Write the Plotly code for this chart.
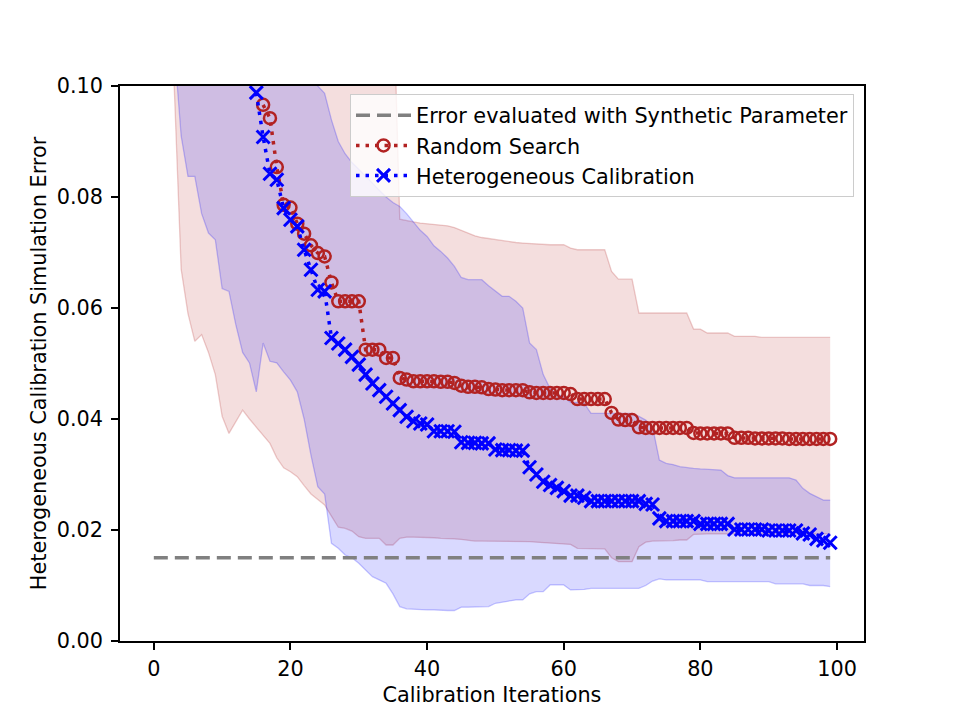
import plotly.graph_objects as go

# ---------------- data ----------------
ABOVE = 0.12  # value lying above the visible y-range (clipped at 0.10 in the reference)

iterations = list(range(100))

# mean curves (visible part)
random_x = list(range(16, 100))
random_mean = [0.0966, 0.0942, 0.0854, 0.0786, 0.0781, 0.0752, 0.0734, 0.0713, 0.0699, 0.0693,
               0.0646, 0.0612, 0.0612, 0.0612, 0.0612, 0.0525, 0.0525, 0.0525, 0.0510, 0.0510,
               0.0474, 0.0471, 0.0468, 0.0468, 0.0468, 0.0468, 0.0467, 0.0467, 0.0465, 0.0460,
               0.0458, 0.0458, 0.0457, 0.0454, 0.0453, 0.0452, 0.0452, 0.0452, 0.0452, 0.0448,
               0.0447, 0.0447, 0.0447, 0.0447, 0.0447, 0.0445, 0.0436, 0.0436, 0.0436, 0.0436,
               0.0436, 0.0411, 0.0399, 0.0398, 0.0398, 0.0385, 0.0384, 0.0384, 0.0384, 0.0384,
               0.0384, 0.0384, 0.0384, 0.0375, 0.0374, 0.0374, 0.0374, 0.0374, 0.0374, 0.0366,
               0.0366, 0.0366, 0.0365, 0.0365, 0.0365, 0.0365, 0.0365, 0.0364, 0.0364, 0.0364,
               0.0364, 0.0364, 0.0364, 0.0364]

hetero_x = list(range(15, 100))
hetero_mean = [0.0988, 0.0908, 0.0842, 0.0831, 0.0780, 0.0759, 0.0747, 0.0705, 0.0669, 0.0633,
               0.0630, 0.0546, 0.0536, 0.0525, 0.0512, 0.0498, 0.0480, 0.0464, 0.0452, 0.0440,
               0.0428, 0.0416, 0.0404, 0.0396, 0.0392, 0.0390, 0.0378, 0.0378, 0.0378, 0.0377,
               0.0358, 0.0357, 0.0357, 0.0356, 0.0356, 0.0345, 0.0344, 0.0344, 0.0343, 0.0343,
               0.0313, 0.0300, 0.0287, 0.0281, 0.0276, 0.0270, 0.0262, 0.0262, 0.0258, 0.0252,
               0.0252, 0.0252, 0.0252, 0.0252, 0.0252, 0.0252, 0.0252, 0.0247, 0.0246, 0.0221,
               0.0216, 0.0216, 0.0216, 0.0216, 0.0216, 0.0211, 0.0211, 0.0211, 0.0211, 0.0211,
               0.0201, 0.0201, 0.0201, 0.0201, 0.0201, 0.0199, 0.0199, 0.0199, 0.0199, 0.0199,
               0.0194, 0.0192, 0.0184, 0.0181, 0.0177]

# bands (iterations 0..99)
random_lower = [ABOVE] * 3 + [
    0.0995, 0.0670, 0.0590, 0.0540, 0.0552, 0.0520, 0.0480, 0.0405, 0.0374, 0.0395,
    0.0416, 0.0400, 0.0386, 0.0370, 0.0356, 0.0330, 0.0312, 0.0305, 0.0296, 0.0280,
    0.0265, 0.0255, 0.0245, 0.0225, 0.0205, 0.0203, 0.0198, 0.0188, 0.0185, 0.0185,
    0.0185, 0.0173, 0.0173, 0.0185, 0.0187, 0.0187, 0.0187, 0.0186, 0.0186, 0.0185,
    0.0185, 0.0184, 0.0183, 0.0181, 0.0180, 0.0180, 0.0180, 0.0180, 0.0180, 0.0179,
    0.0179, 0.0179, 0.0179, 0.0178, 0.0177, 0.0176, 0.0175, 0.0175, 0.0174, 0.0167,
    0.0167, 0.0167, 0.0167, 0.0166, 0.0150, 0.0143, 0.0143, 0.0143, 0.0170, 0.0178,
    0.0180, 0.0180, 0.0181, 0.0181, 0.0182, 0.0182, 0.0192] + [0.0193] * 20

random_upper = [ABOVE] * 36 + [
    0.0760, 0.0757, 0.0755, 0.0753, 0.0752, 0.0750, 0.0749, 0.0748, 0.0745, 0.0740,
    0.0735, 0.0730, 0.0727, 0.0725, 0.0723, 0.0721, 0.0720, 0.0718, 0.0717, 0.0716,
    0.0715, 0.0714, 0.0714, 0.0714, 0.0714, 0.0708, 0.0705, 0.0705, 0.0705, 0.0705,
    0.0705, 0.0666, 0.0652, 0.0652, 0.0652, 0.0591, 0.0591, 0.0591, 0.0591, 0.0591,
    0.0591, 0.0591, 0.0591, 0.0562, 0.0562, 0.0555, 0.0555, 0.0555, 0.0555, 0.0549,
    0.0549, 0.0549, 0.0549] + [0.0547] * 11

hetero_lower = [ABOVE] * 3 + [
    0.1070, 0.0910, 0.0837, 0.0837, 0.0770, 0.0735, 0.0723, 0.0635, 0.0630, 0.0570,
    0.0520, 0.0501, 0.0449, 0.0537, 0.0504, 0.0501, 0.0485, 0.0470, 0.0449, 0.0400,
    0.0335, 0.0278, 0.0265, 0.0176, 0.0167, 0.0155, 0.0150, 0.0140, 0.0128, 0.0116,
    0.0110, 0.0104, 0.0085, 0.0062, 0.0058, 0.0057, 0.0057, 0.0056, 0.0056, 0.0055,
    0.0055, 0.0055, 0.0061, 0.0061, 0.0061, 0.0062, 0.0062, 0.0068, 0.0070, 0.0071,
    0.0074, 0.0074, 0.0085, 0.0089, 0.0089, 0.0101, 0.0101, 0.0101, 0.0092, 0.0092,
    0.0093] + [0.0095] * 8 + [0.0100, 0.0108, 0.0112] + [0.0110] * 6 + [0.0107] * 10 + \
    [0.0103] * 5 + [0.0100] * 3 + [0.0098]

hetero_upper = [ABOVE] * 24 + [
    0.1000, 0.0987, 0.0939, 0.0900, 0.0878, 0.0862, 0.0850, 0.0838, 0.0825, 0.0812,
    0.0800, 0.0790, 0.0783, 0.0770, 0.0755, 0.0740, 0.0729, 0.0712, 0.0702, 0.0690,
    0.0675, 0.0655, 0.0651, 0.0651, 0.0651, 0.0640, 0.0630, 0.0621, 0.0621, 0.0612,
    0.0600, 0.0537, 0.0525, 0.0480, 0.0455, 0.0445, 0.0440, 0.0430, 0.0430, 0.0428] + \
    [0.0410] * 7 + [0.0405, 0.0398, 0.0386, 0.0326, 0.0320, 0.0318, 0.0314, 0.0312, 0.0311,
                    0.0310, 0.0309, 0.0308, 0.0308, 0.0298] + [0.0294] * 9 + \
    [0.0290, 0.0275, 0.0266, 0.0260, 0.0254, 0.0254]

synthetic_error = [0.015] * 100

x_ticks = [0, 20, 40, 60, 80, 100]
y_ticks = [0.00, 0.02, 0.04, 0.06, 0.08, 0.10]

# ---------------- styles ----------------
RED = "rgb(178,34,34)"
BLUE = "rgb(0,0,255)"
FONT = "DejaVu Sans"
FS = 20.8

fig = go.Figure()

# bands
fig.add_trace(go.Scatter(x=iterations, y=random_lower, mode="lines",
                         line=dict(color="rgba(178,34,34,0.22)", width=1.3),
                         showlegend=False, hoverinfo="skip"))
fig.add_trace(go.Scatter(x=iterations, y=random_upper, mode="lines", fill="tonexty",
                         fillcolor="rgba(178,34,34,0.15)",
                         line=dict(color="rgba(178,34,34,0.22)", width=1.3),
                         showlegend=False, hoverinfo="skip"))
fig.add_trace(go.Scatter(x=iterations, y=hetero_lower, mode="lines",
                         line=dict(color="rgba(0,0,255,0.22)", width=1.3),
                         showlegend=False, hoverinfo="skip"))
fig.add_trace(go.Scatter(x=iterations, y=hetero_upper, mode="lines", fill="tonexty",
                         fillcolor="rgba(0,0,255,0.15)",
                         line=dict(color="rgba(0,0,255,0.22)", width=1.3),
                         showlegend=False, hoverinfo="skip"))

# reference line
fig.add_trace(go.Scatter(x=iterations, y=synthetic_error, mode="lines",
                         name="Error evaluated with Synthetic Parameter",
                         legendgroup="a",
                         line=dict(color="gray", width=3.5, dash="14px,7px")))

# random search
fig.add_trace(go.Scatter(x=random_x, y=random_mean, mode="lines+markers",
                         name="Random Search", legendgroup="b",
                         line=dict(color=RED, width=3.5, dash="3.5px,6px"),
                         marker=dict(symbol="circle-open", size=12, color=RED,
                                     line=dict(color=RED, width=2.5))))

# heterogeneous calibration
fig.add_trace(go.Scatter(x=hetero_x, y=hetero_mean, mode="lines+markers",
                         name="Heterogeneous Calibration", legendgroup="c",
                         line=dict(color=BLUE, width=3.5, dash="3.5px,6px"),
                         marker=dict(symbol="x-thin-open", size=13, color=BLUE,
                                     line=dict(color=BLUE, width=3))))

axis_common = dict(showline=True, linecolor="black", linewidth=1.6, mirror=True,
                   ticks="outside", ticklen=7, tickwidth=1.6, tickcolor="black",
                   showgrid=False, zeroline=False,
                   tickfont=dict(family=FONT, size=FS, color="black"))

fig.update_layout(
    width=961, height=721,
    margin=dict(l=120, r=97, t=86, b=80),
    paper_bgcolor="white", plot_bgcolor="white",
    font=dict(family=FONT, size=FS, color="black"),
    xaxis=dict(range=[-4.95, 103.95], tickvals=x_ticks, ticklabelstandoff=1,
               title=dict(text="Calibration Iterations", font=dict(family=FONT, size=FS),
                          standoff=8),
               **axis_common),
    yaxis=dict(range=[0, 0.1], tickvals=y_ticks, tickformat=".2f", ticklabelstandoff=4,
               title=dict(text="Heterogeneous Calibration Simulation Error",
                          font=dict(family=FONT, size=FS), standoff=4),
               **axis_common),
    legend=dict(x=0.9866, y=0.985, xanchor="right", yanchor="top",
                bgcolor="rgba(255,255,255,0.8)", bordercolor="#cccccc", borderwidth=1,
                font=dict(family=FONT, size=FS, color="black"),
                itemwidth=55,
                tracegroupgap=0, traceorder="grouped"),
    showlegend=True,
)

fig.write_html("out.html")
